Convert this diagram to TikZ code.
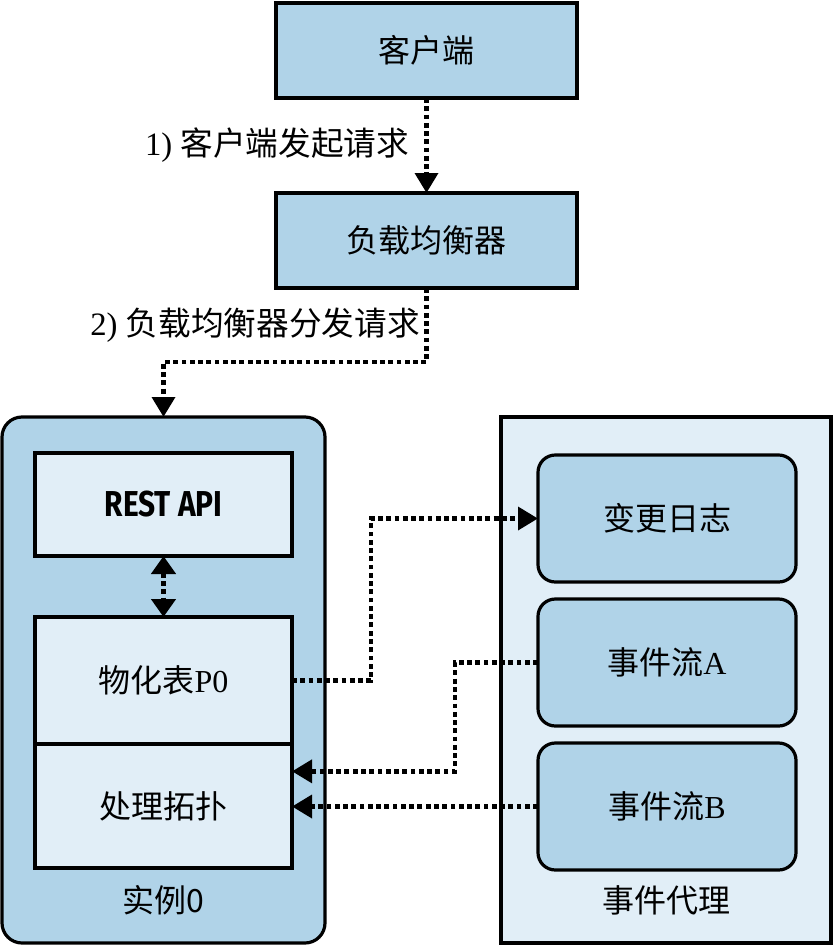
\documentclass[tikz,border=0pt]{standalone}
\usepackage{fontspec}
\setmainfont{Liberation Serif}
\newfontfamily\cjk{Noto Sans CJK SC}
\newfontfamily\apifont{Fira Sans}[FakeStretch=0.83]
\usepackage{xcolor}
\usetikzlibrary{arrows.meta, positioning}
\definecolor{boxblue}{HTML}{B0D3E8}
\definecolor{paleblue}{HTML}{E1EEF7}

\begin{document}
\begin{tikzpicture}[x=0.75pt, y=-0.75pt,
    base/.style={draw=black, line width=2.4pt, outer sep=0pt, text centered, font=\fontsize{24}{28}\selectfont},
    block/.style={base, rectangle, fill=boxblue, minimum width=225.75pt, minimum height=71.25pt},
    part/.style={base, rectangle, fill=paleblue, minimum width=192.75pt},
    topic/.style={base, rectangle, rounded corners=13pt, fill=boxblue, minimum width=193.5pt, minimum height=95.25pt},
    flow/.style={draw=black, line width=3.4pt, dash pattern=on 3.6pt off 2.6pt, -{Triangle[width=17pt,length=15pt]}},
    twoway/.style={flow, {Triangle[width=18pt,length=13.5pt]}-{Triangle[width=18pt,length=13.5pt]}},
    note/.style={font=\fontsize{24.5}{28}\selectfont}
]
    \useasboundingbox (0,0) rectangle (834,946);

    % Containers
    \node [base, fill=boxblue, rounded corners=15pt, minimum width=242.25pt, minimum height=394.5pt] (inst) at (163.5,680) {};
    \node [base, fill=paleblue, minimum width=247.5pt, minimum height=394.5pt] (broker) at (666,680) {};
    \node [note, font=\fontsize{24}{28}\selectfont\cjk] at ([yshift=32pt]inst.south) {实例0};
    \node [note, font=\fontsize{24}{28}\selectfont\cjk] at ([yshift=32pt]broker.south) {事件代理};

    % Request path
    \node [block] (client) at (426.5,50.5) {{\cjk 客户端}};
    \node [block, below=71.25pt of client] (lb) {{\cjk 负载均衡器}};

    % Instance internals
    \node [part, minimum height=77.25pt] (rest) at (163.5,504.5) {{\apifont\bfseries\fontsize{27}{30}\selectfont REST API}};
    \node [part, minimum height=95.25pt, below=45.75pt of rest] (mat) {{\cjk 物化表}P0};
    \node [part, minimum height=93pt, below=0pt of mat] (topo) {{\cjk 处理拓扑}};

    % Broker topics
    \node [topic] (log) at (667,518.5) {{\cjk 变更日志}};
    \node [topic, below=12.75pt of log] (sa) {{\cjk 事件流}A};
    \node [topic, below=12.75pt of sa] (sb) {{\cjk 事件流}B};

    % Connections
    \draw [flow] (client) -- node[note, left=8pt] {1) {\cjk 客户端发起请求}} (lb);
    \draw [flow] (lb.south) -- node[note, left] {2) {\cjk 负载均衡器分发请求}} ++(0,74) -| (inst.north);
    \draw [twoway] (rest) -- (mat);
    \draw [flow] (mat.east) -- ++(79,0) |- (log.west);
    \draw [flow] (sa.west) -- ++(-83,0) |- ([yshift=26pt]topo.east);
    \draw [flow] (sb.west) -- (sb.west -| topo.east);
\end{tikzpicture}
\end{document}
